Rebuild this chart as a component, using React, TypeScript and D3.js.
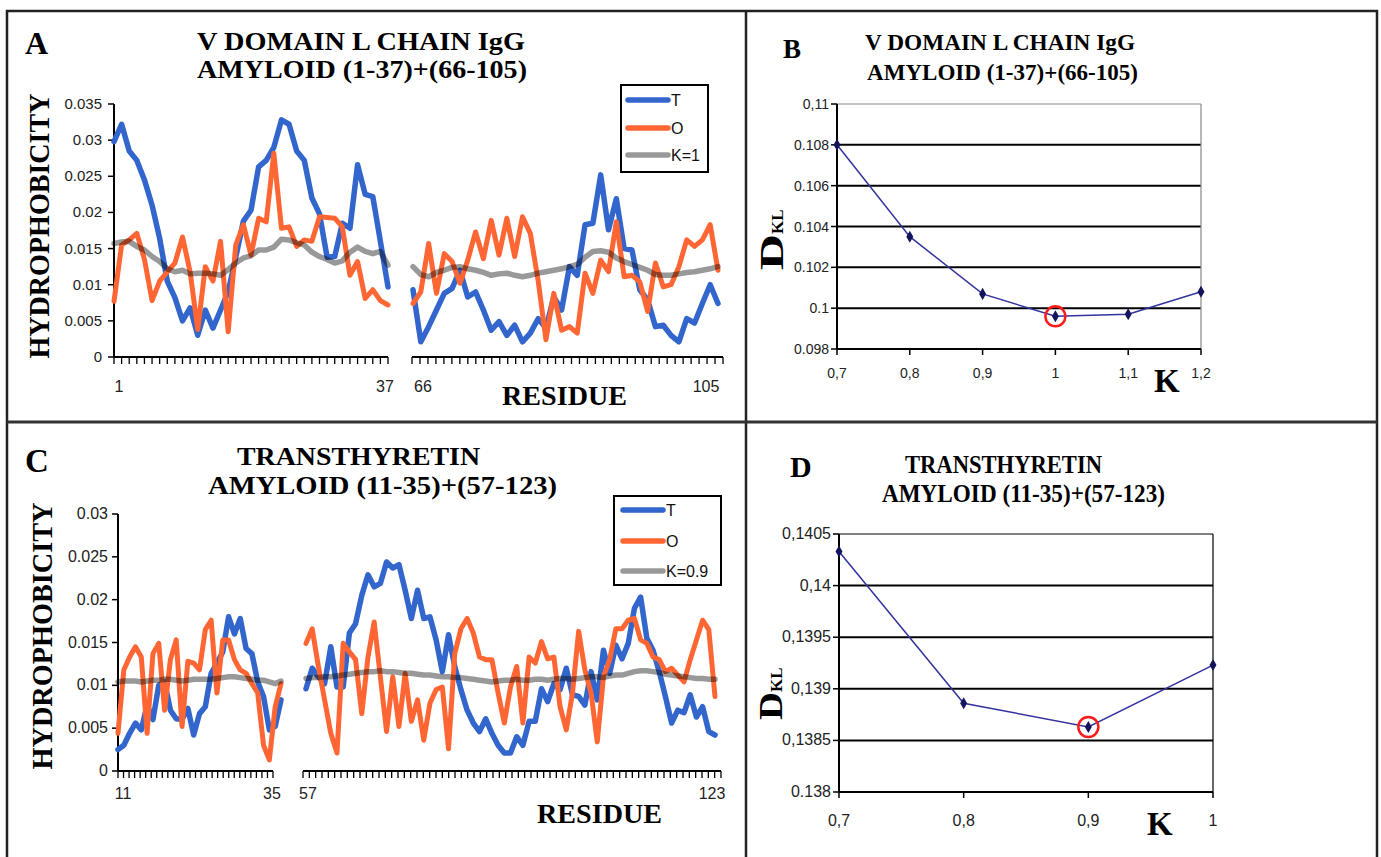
import * as d3 from "d3"

const serif = "'Liberation Serif', 'Times New Roman', serif"
const sans = "'Liberation Sans', Arial, sans-serif"

const BLUE = "#3366cc"
const ORANGE = "#ff6633"
const GREY = "rgba(0,0,0,0.4)"

// ---------- panel A : V domain L chain IgG ----------
const vdomRanges = [
    [1, 37],
    [66, 105],
]
const vdomT1 = [0.0298, 0.0322, 0.0285, 0.0272, 0.0245, 0.021, 0.0164, 0.0105, 0.0082, 0.005, 0.0068, 0.003, 0.0065, 0.004, 0.0065, 0.009, 0.0138, 0.0188, 0.0203, 0.0263, 0.0272, 0.029, 0.0328, 0.0322, 0.0285, 0.0272, 0.022, 0.0198, 0.0138, 0.0139, 0.0185, 0.0178, 0.0266, 0.0225, 0.0222, 0.016, 0.0097]
const vdomO1 = [0.0077, 0.0155, 0.0162, 0.0171, 0.0135, 0.0078, 0.0105, 0.0118, 0.013, 0.0166, 0.0118, 0.0038, 0.0125, 0.0105, 0.016, 0.0035, 0.0155, 0.0183, 0.0141, 0.0192, 0.0187, 0.0282, 0.0178, 0.018, 0.0153, 0.0162, 0.016, 0.0194, 0.0193, 0.0192, 0.018, 0.0113, 0.0132, 0.0081, 0.0093, 0.0078, 0.0072]
const vdomK1 = [0.0157, 0.0159, 0.016, 0.0153, 0.0148, 0.0139, 0.0132, 0.0122, 0.0118, 0.012, 0.0115, 0.0116, 0.0116, 0.0115, 0.0113, 0.0121, 0.013, 0.0137, 0.014, 0.0148, 0.0148, 0.0152, 0.0163, 0.0162, 0.0158, 0.0155, 0.0145, 0.0139, 0.0135, 0.013, 0.0133, 0.0145, 0.0152, 0.0146, 0.0143, 0.0146, 0.0127]
const vdomT2 = [0.0093, 0.0021, 0.0042, 0.0065, 0.0088, 0.0095, 0.012, 0.0083, 0.009, 0.0065, 0.0037, 0.0049, 0.003, 0.0044, 0.0021, 0.0033, 0.0053, 0.004, 0.0083, 0.0065, 0.0125, 0.0113, 0.0183, 0.0185, 0.0252, 0.0176, 0.0219, 0.015, 0.0148, 0.0093, 0.0079, 0.0042, 0.0044, 0.003, 0.0021, 0.0053, 0.0047, 0.0074, 0.01, 0.0074]
const vdomO2 = [0.0074, 0.009, 0.0157, 0.0088, 0.0143, 0.0132, 0.0102, 0.0134, 0.0173, 0.0136, 0.0189, 0.0141, 0.0192, 0.0139, 0.0194, 0.0171, 0.0106, 0.0024, 0.0088, 0.0037, 0.0042, 0.0033, 0.0116, 0.0088, 0.0134, 0.0118, 0.0187, 0.0111, 0.0113, 0.0104, 0.0063, 0.013, 0.0097, 0.01, 0.0125, 0.0162, 0.0153, 0.0162, 0.0183, 0.012]
const vdomK2 = [0.0125, 0.0114, 0.0111, 0.0117, 0.012, 0.0124, 0.0125, 0.0122, 0.012, 0.0117, 0.0113, 0.0115, 0.0116, 0.0113, 0.0111, 0.0113, 0.0116, 0.0118, 0.012, 0.0122, 0.0125, 0.0128, 0.0138, 0.0146, 0.0147, 0.0145, 0.0137, 0.0132, 0.0128, 0.0124, 0.012, 0.0114, 0.0113, 0.0113, 0.0115, 0.0117, 0.0118, 0.012, 0.0122, 0.0125]
const hydroTicksA = [0, 0.005, 0.01, 0.015, 0.02, 0.025, 0.03, 0.035]
const hydroLabelsA = ["0", "0.005", "0.01", "0.015", "0.02", "0.025", "0.03", "0.035"]

// ---------- panel C : transthyretin ----------
const ttrRanges = [
    [11, 35],
    [57, 123],
]
const ttrT1 = [0.0025, 0.003, 0.0044, 0.0056, 0.0048, 0.0077, 0.006, 0.01, 0.0104, 0.0071, 0.0061, 0.006, 0.0073, 0.0042, 0.0067, 0.0075, 0.0114, 0.0126, 0.0139, 0.018, 0.016, 0.0178, 0.0143, 0.0137, 0.0104, 0.0087, 0.0048, 0.0052, 0.0083]
const ttrO1 = [0.0044, 0.0118, 0.0133, 0.0145, 0.0133, 0.0044, 0.0137, 0.0149, 0.0071, 0.013, 0.0153, 0.0052, 0.0128, 0.0126, 0.0118, 0.0165, 0.0176, 0.0091, 0.0153, 0.0153, 0.013, 0.0118, 0.0114, 0.0102, 0.0091, 0.003, 0.0013, 0.0075, 0.0102]
const ttrK1 = [0.0104, 0.0105, 0.0105, 0.0105, 0.0104, 0.0105, 0.0106, 0.0106, 0.0107, 0.0107, 0.0106, 0.0105, 0.0106, 0.0107, 0.0107, 0.0107, 0.0107, 0.0108, 0.0109, 0.011, 0.011, 0.0109, 0.0108, 0.0107, 0.0106, 0.0106, 0.0104, 0.0102, 0.0105]
const ttrT2 = [0.0096, 0.012, 0.011, 0.0102, 0.0145, 0.0098, 0.0098, 0.0161, 0.0172, 0.0205, 0.0229, 0.0215, 0.0219, 0.0244, 0.0237, 0.0241, 0.0211, 0.0178, 0.0211, 0.0178, 0.018, 0.0153, 0.0116, 0.0159, 0.0122, 0.0095, 0.0071, 0.0056, 0.0046, 0.0061, 0.0044, 0.003, 0.0021, 0.0021, 0.004, 0.003, 0.0058, 0.0058, 0.0096, 0.0081, 0.0102, 0.0095, 0.012, 0.0089, 0.0087, 0.0077, 0.0116, 0.0083, 0.0141, 0.0114, 0.0147, 0.0131, 0.0149, 0.019, 0.0203, 0.0155, 0.0141, 0.0116, 0.0087, 0.0056, 0.0071, 0.0068, 0.0089, 0.0063, 0.0075, 0.0046, 0.0042]
const ttrO2 = [0.0149, 0.0166, 0.0122, 0.0083, 0.0044, 0.0021, 0.0149, 0.0139, 0.013, 0.0067, 0.0133, 0.0174, 0.011, 0.0046, 0.011, 0.0052, 0.0114, 0.0058, 0.0083, 0.0036, 0.0079, 0.0095, 0.0098, 0.0026, 0.0137, 0.0166, 0.0178, 0.0161, 0.0133, 0.013, 0.013, 0.0091, 0.0056, 0.0098, 0.0122, 0.0056, 0.0133, 0.0126, 0.0151, 0.0131, 0.0133, 0.0075, 0.0048, 0.0091, 0.0163, 0.0118, 0.0091, 0.0034, 0.011, 0.013, 0.0166, 0.0166, 0.0176, 0.0178, 0.0153, 0.0149, 0.0133, 0.013, 0.0116, 0.012, 0.0112, 0.0104, 0.013, 0.0153, 0.0176, 0.0165, 0.0087]
const ttrK2 = [0.0108, 0.0109, 0.0109, 0.011, 0.011, 0.0111, 0.0112, 0.0113, 0.0114, 0.0115, 0.0116, 0.0116, 0.0117, 0.0116, 0.0116, 0.0115, 0.0114, 0.0114, 0.0113, 0.0112, 0.0112, 0.0111, 0.011, 0.011, 0.0109, 0.0109, 0.0108, 0.0107, 0.0106, 0.0105, 0.0104, 0.0105, 0.0106, 0.0106, 0.0107, 0.0106, 0.0106, 0.0107, 0.0107, 0.0106, 0.0107, 0.0108, 0.0108, 0.0107, 0.0108, 0.0109, 0.011, 0.011, 0.0109, 0.0111, 0.0112, 0.0112, 0.0114, 0.0116, 0.0117, 0.0117, 0.0116, 0.0115, 0.0113, 0.0112, 0.0111, 0.011, 0.0109, 0.0108, 0.0108, 0.0107, 0.0107]
const hydroTicksC = [0, 0.005, 0.01, 0.015, 0.02, 0.025, 0.03]
const hydroLabelsC = ["0", "0.005", "0.01", "0.015", "0.02", "0.025", "0.03"]

// ---------- panels B and D : D_KL against K ----------
const kB = [0.7, 0.8, 0.9, 1.0, 1.1, 1.2]
const kLabelsB = ["0,7", "0,8", "0,9", "1", "1,1", "1,2"]
const dklB = [0.108, 0.1035, 0.1007, 0.0996, 0.0997, 0.1008]
const dklTicksB = [0.098, 0.1, 0.102, 0.104, 0.106, 0.108, 0.11]
const dklLabelsB = ["0.098", "0.1", "0.102", "0.104", "0.106", "0.108", "0,11"]

const kD = [0.7, 0.8, 0.9, 1.0]
const kLabelsD = ["0,7", "0,8", "0,9", "1"]
const dklD = [0.14033, 0.13886, 0.13863, 0.13923]
const dklTicksD = [0.138, 0.1385, 0.139, 0.1395, 0.14, 0.1405]
const dklLabelsD = ["0.138", "0,1385", "0,139", "0,1395", "0,14", "0,1405"]

function Bold({ x, y, len, size, children, anchor = "start" }) {
    return (
        <text
            x={x}
            y={y}
            fontFamily={serif}
            fontWeight="bold"
            fontSize={size}
            textAnchor={anchor}
            textLength={len}
            lengthAdjust="spacingAndGlyphs"
        >
            {children}
        </text>
    )
}

function Profile({ yBottom, yTop, yMax, ticks, tickLabels, axisX, labelRight, tickFont, segs, numY, numFont }) {
    const y = d3.scaleLinear().domain([0, yMax]).range([yBottom, yTop])
    return (
        <g>
            <line x1={axisX} x2={axisX} y1={yTop} y2={yBottom} stroke="#000" strokeWidth={2} />
            {ticks.map((t, i) => (
                <g key={i}>
                    <line x1={axisX - 6} x2={axisX} y1={y(t)} y2={y(t)} stroke="#000" strokeWidth={1.5} />
                    <text x={labelRight} y={y(t) + 5} textAnchor="end" fontSize={tickFont} fontFamily={sans} fill="#222">
                        {tickLabels[i]}
                    </text>
                </g>
            ))}
            {segs.map((s, si) => {
                const n = s.T.length
                const x = d3.scaleLinear().domain([0, n - 1]).range(s.data)
                const xt = d3.scaleLinear().domain([0, s.nTicks - 1]).range(s.axis)
                const line = d3
                    .line<number>()
                    .x((_, i) => x(i))
                    .y((d) => y(d))
                const common = { fill: "none", strokeLinejoin: "round" as const, strokeLinecap: "round" as const }
                return (
                    <g key={si}>
                        <line x1={s.axis[0]} x2={s.axis[1]} y1={yBottom} y2={yBottom} stroke="#000" strokeWidth={2} />
                        {d3.range(s.nTicks).map((i) => (
                            <line key={i} x1={xt(i)} x2={xt(i)} y1={yBottom} y2={yBottom + 7} stroke="#000" strokeWidth={1.3} />
                        ))}
                        <path d={line(s.T)} stroke={BLUE} strokeWidth={5.5} {...common} />
                        <path d={line(s.O)} stroke={ORANGE} strokeWidth={5} {...common} />
                        <path d={line(s.K)} stroke={GREY} strokeWidth={5.5} {...common} />
                        <text x={s.lab[0]} y={numY} textAnchor="middle" fontSize={numFont} fontFamily={sans} fill="#222">
                            {s.range[0]}
                        </text>
                        <text x={s.lab[1]} y={numY} textAnchor="middle" fontSize={numFont} fontFamily={sans} fill="#222">
                            {s.range[1]}
                        </text>
                    </g>
                )
            })}
        </g>
    )
}

function Legend({ x, y, w, h, rows, names, x0, x1 }) {
    const colors = [BLUE, ORANGE, GREY]
    return (
        <g>
            <rect x={x} y={y} width={w} height={h} fill="#fff" stroke="#000" strokeWidth={2} />
            {rows.map((ry, i) => (
                <g key={i}>
                    <line x1={x0} x2={x1} y1={ry} y2={ry} stroke={colors[i]} strokeWidth={5.5} strokeLinecap="round" />
                    <text x={x1 + 3} y={ry + 6} fontSize={16} fontFamily={sans} fill="#111">
                        {names[i]}
                    </text>
                </g>
            ))}
        </g>
    )
}

function Dkl({ ks, vals, kLabels, ticks, tickLabels, x0, x1, yTop, yBottom, tickFont, xLabY, topColor }) {
    const x = d3.scaleLinear().domain([ks[0], ks[ks.length - 1]]).range([x0, x1])
    const y = d3.scaleLinear().domain([ticks[0], ticks[ticks.length - 1]]).range([yBottom, yTop])
    const line = d3
        .line<number>()
        .x((_, i) => x(ks[i]))
        .y((d) => y(d))
    const diamond = d3.symbol(d3.symbolDiamond, 42)()
    const best = d3.minIndex(vals)
    return (
        <g>
            {ticks.slice(1).map((t, i) => {
                const top = i === ticks.length - 2
                return (
                    <line key={i} x1={x0} x2={x1} y1={y(t)} y2={y(t)} stroke={top ? topColor : "#000"} strokeWidth={top ? 1.2 : 2} />
                )
            })}
            <line x1={x1} x2={x1} y1={yTop} y2={yBottom} stroke={topColor} strokeWidth={1.2} />
            <line x1={x0} x2={x0} y1={yTop} y2={yBottom} stroke="#000" strokeWidth={2} />
            <line x1={x0} x2={x1} y1={yBottom} y2={yBottom} stroke="#000" strokeWidth={2} />
            {ticks.map((t, i) => (
                <g key={i}>
                    <line x1={x0 - 6} x2={x0} y1={y(t)} y2={y(t)} stroke="#000" strokeWidth={1.5} />
                    <text x={x0 - 8} y={y(t) + 5} textAnchor="end" fontSize={tickFont} fontFamily={sans} fill="#222">
                        {tickLabels[i]}
                    </text>
                </g>
            ))}
            {ks.map((k, i) => (
                <g key={i}>
                    <line x1={x(k)} x2={x(k)} y1={yBottom} y2={yBottom + 6} stroke="#000" strokeWidth={1.5} />
                    <text x={x(k)} y={xLabY} textAnchor="middle" fontSize={tickFont} fontFamily={sans} fill="#222">
                        {kLabels[i]}
                    </text>
                </g>
            ))}
            <path d={line(vals)} fill="none" stroke="#33339f" strokeWidth={1.5} />
            {vals.map((v, i) => (
                <path key={i} d={diamond} transform={`translate(${x(ks[i])},${y(v)})`} fill="#14145a" />
            ))}
            <circle cx={x(ks[best])} cy={y(vals[best])} r={10} fill="none" stroke="#ff1a1a" strokeWidth={2.5} />
        </g>
    )
}

function DklLabel({ x, y, dLen }) {
    return (
        <g transform={`translate(${x},${y}) rotate(-90)`}>
            <text x={0} y={0} fontFamily={serif} fontWeight="bold" fontSize={34} textLength={dLen} lengthAdjust="spacingAndGlyphs">
                D
            </text>
            <text x={dLen} y={0} fontFamily={serif} fontWeight="bold" fontSize={17}>
                KL
            </text>
        </g>
    )
}

export default function App() {
    return (
        <div style={{ position: "absolute", left: 0, top: 0 }}>
            <svg width={1381} height={857} style={{ display: "block", background: "#fff" }}>
                {/* frame */}
                <rect x={7} y={11} width={1370} height={880} fill="none" stroke="#222" strokeWidth={2.5} />
                <line x1={746} x2={746} y1={11} y2={857} stroke="#222" strokeWidth={2.5} />
                <line x1={7} x2={1377} y1={422} y2={422} stroke="#333" strokeWidth={3} />

                {/* A */}
                <Bold x={25} y={54} size={32}>A</Bold>
                <Bold x={197} y={50} len={328} size={26}>V DOMAIN L CHAIN IgG</Bold>
                <Bold x={197} y={78} len={330} size={26}>AMYLOID (1-37)+(66-105)</Bold>
                <g transform="translate(49,226) rotate(-90)">
                    <Bold x={0} y={0} len={265} size={30} anchor="middle">HYDROPHOBICITY</Bold>
                </g>
                <Profile
                    yBottom={357}
                    yTop={104}
                    yMax={0.035}
                    ticks={hydroTicksA}
                    tickLabels={hydroLabelsA}
                    axisX={114}
                    labelRight={102}
                    tickFont={15}
                    numY={392}
                    numFont={16}
                    segs={[
                        { T: vdomT1, O: vdomO1, K: vdomK1, range: vdomRanges[0], data: [114, 388], axis: [114, 388], nTicks: 37, lab: [119, 385] },
                        { T: vdomT2, O: vdomO2, K: vdomK2, range: vdomRanges[1], data: [413, 718], axis: [412, 723], nTicks: 40, lab: [423, 706] },
                    ]}
                />
                <Bold x={502} y={405} len={125} size={28}>RESIDUE</Bold>
                <Legend x={621} y={85} w={87} h={87} rows={[100, 128, 155]} names={["T", "O", "K=1"]} x0={628} x1={668} />

                {/* B */}
                <Bold x={783} y={58} size={27}>B</Bold>
                <Bold x={865} y={50} len={270} size={23}>V DOMAIN L CHAIN IgG</Bold>
                <Bold x={867} y={80} len={271} size={23}>AMYLOID (1-37)+(66-105)</Bold>
                <Dkl
                    ks={kB}
                    vals={dklB}
                    kLabels={kLabelsB}
                    ticks={dklTicksB}
                    tickLabels={dklLabelsB}
                    x0={837}
                    x1={1201}
                    yTop={104}
                    yBottom={349}
                    tickFont={14}
                    xLabY={378}
                    topColor="#888"
                />
                <DklLabel x={783} y={270} dLen={36} />
                <Bold x={1154} y={392} size={33}>K</Bold>

                {/* C */}
                <Bold x={25} y={472} size={33}>C</Bold>
                <Bold x={237} y={465} len={243} size={26}>TRANSTHYRETIN</Bold>
                <Bold x={208} y={494} len={349} size={26}>AMYLOID (11-35)+(57-123)</Bold>
                <g transform="translate(52,636) rotate(-90)">
                    <Bold x={0} y={0} len={267} size={30} anchor="middle">HYDROPHOBICITY</Bold>
                </g>
                <Profile
                    yBottom={771}
                    yTop={514}
                    yMax={0.03}
                    ticks={hydroTicksC}
                    tickLabels={hydroLabelsC}
                    axisX={118}
                    labelRight={108}
                    tickFont={16}
                    numY={799}
                    numFont={16}
                    segs={[
                        { T: ttrT1, O: ttrO1, K: ttrK1, range: ttrRanges[0], data: [118, 281], axis: [118, 273], nTicks: 29, lab: [123, 272] },
                        { T: ttrT2, O: ttrO2, K: ttrK2, range: ttrRanges[1], data: [306, 715], axis: [303, 721], nTicks: 67, lab: [308, 712] },
                    ]}
                />
                <Bold x={537} y={823} len={125} size={28}>RESIDUE</Bold>
                <Legend x={614} y={496} w={107} h={89} rows={[510, 541, 571]} names={["T", "O", "K=0.9"]} x0={623} x1={663} />

                {/* D */}
                <Bold x={790} y={477} size={30}>D</Bold>
                <Bold x={905} y={473} len={197} size={26}>TRANSTHYRETIN</Bold>
                <Bold x={882} y={502} len={283} size={26}>AMYLOID (11-35)+(57-123)</Bold>
                <Dkl
                    ks={kD}
                    vals={dklD}
                    kLabels={kLabelsD}
                    ticks={dklTicksD}
                    tickLabels={dklLabelsD}
                    x0={839}
                    x1={1213}
                    yTop={534}
                    yBottom={792}
                    tickFont={16}
                    xLabY={826}
                    topColor="#000"
                />
                <DklLabel x={782} y={720} dLen={28} />
                <Bold x={1147} y={835} size={33}>K</Bold>
            </svg>
        </div>
    )
}
